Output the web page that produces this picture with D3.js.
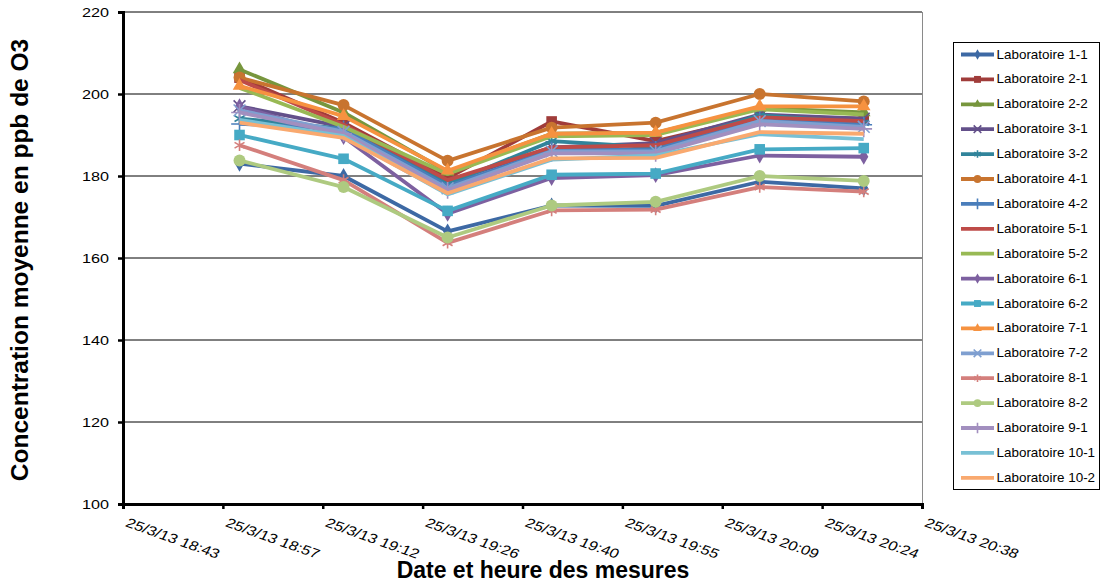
<!DOCTYPE html>
<html><head><meta charset="utf-8">
<script src="https://cdn.jsdelivr.net/npm/d3@7"></script>
<style>
body{margin:0;background:#fff;}
text{font-family:"Liberation Sans",Arial,sans-serif;}
</style></head>
<body><svg id="c" width="1102" height="585"></svg>
<script>
const times = ["2013-03-25T19:00","2013-03-25T19:15","2013-03-25T19:30","2013-03-25T19:45","2013-03-25T20:00","2013-03-25T20:15","2013-03-25T20:30"];
const xTickTimes = ["2013-03-25T18:43:12","2013-03-25T18:57:36","2013-03-25T19:12:00","2013-03-25T19:26:24","2013-03-25T19:40:48","2013-03-25T19:55:12","2013-03-25T20:09:36","2013-03-25T20:24:00","2013-03-25T20:38:24"];
const xTickLabels = ["25/3/13 18:43","25/3/13 18:57","25/3/13 19:12","25/3/13 19:26","25/3/13 19:40","25/3/13 19:55","25/3/13 20:09","25/3/13 20:24","25/3/13 20:38"];
const yTicks = [100,120,140,160,180,200,220];

const seriesNames = ["Laboratoire 1-1","Laboratoire 2-1","Laboratoire 2-2","Laboratoire 3-1","Laboratoire 3-2","Laboratoire 4-1","Laboratoire 4-2","Laboratoire 5-1","Laboratoire 5-2","Laboratoire 6-1","Laboratoire 6-2","Laboratoire 7-1","Laboratoire 7-2","Laboratoire 8-1","Laboratoire 8-2","Laboratoire 9-1","Laboratoire 10-1","Laboratoire 10-2"];
const lab1_1  = [183.0, 180.0, 166.5, 172.8, 172.7, 178.6, 177.0];
const lab2_1  = [204.0, 193.0, 179.5, 193.3, 188.5, 194.5, 194.0];
const lab2_2  = [206.0, 195.5, 181.0, 190.3, 190.5, 196.6, 195.5];
const lab3_1  = [197.0, 192.0, 178.5, 187.0, 188.0, 195.0, 194.0];
const lab3_2  = [194.0, 191.5, 178.0, 188.5, 187.0, 194.8, 193.0];
const lab4_1  = [204.0, 197.3, 183.7, 191.8, 193.0, 200.0, 198.2];
const lab4_2  = [192.7, 191.5, 177.5, 186.3, 186.5, 194.0, 192.5];
const lab5_1  = [203.4, 192.5, 179.0, 187.0, 187.5, 194.3, 193.4];
const lab5_2  = [201.5, 192.0, 180.5, 189.7, 190.0, 196.3, 195.0];
const lab6_1  = [197.0, 189.5, 170.8, 179.5, 180.2, 185.0, 184.7];
const lab6_2  = [190.0, 184.2, 171.5, 180.3, 180.6, 186.5, 186.8];
const lab7_1  = [202.0, 194.6, 181.3, 190.3, 190.6, 197.0, 197.0];
const lab7_2  = [196.0, 190.8, 177.0, 186.0, 186.0, 193.4, 192.0];
const lab8_1  = [187.5, 179.0, 163.7, 171.6, 171.8, 177.3, 176.2];
const lab8_2  = [183.8, 177.3, 165.0, 172.8, 173.7, 180.0, 178.8];
const lab9_1  = [195.5, 190.3, 176.5, 185.5, 185.5, 192.6, 191.5];
const lab10_1 = [193.7, 189.7, 175.5, 184.0, 185.0, 190.2, 189.0];
const lab10_2 = [193.0, 189.3, 175.8, 184.3, 184.4, 190.7, 190.3];
const seriesValues = [lab1_1,lab2_1,lab2_2,lab3_1,lab3_2,lab4_1,lab4_2,lab5_1,lab5_2,lab6_1,lab6_2,lab7_1,lab7_2,lab8_1,lab8_2,lab9_1,lab10_1,lab10_2];

const colors = ["#3D69A4","#A03C3A","#77963D","#63508A","#31849B","#C8742F","#4A7EBB","#BE4B48","#98B954","#7D60A0","#46AAC5","#F69240","#7F9FD0","#D47F7C","#AECA80","#A28FBF","#78C0D5","#F9A96F"];
const markers = ["diamond","square","triangle","x","star","circle","plus","none","none","diamond","square","triangle","x","star","circle","plus","none","none"];

const svg = d3.select("#c");
const L = 123, R = 922, T = 12, B = 504;
const parse = d3.isoParse;
const x = d3.scaleTime().domain([parse(xTickTimes[0]), parse(xTickTimes[xTickTimes.length-1])]).range([L, R]);
const y = d3.scaleLinear().domain([100, 220]).range([B, T]);
const FF = '"Liberation Sans",Arial,sans-serif';

// gridlines
svg.append("g").selectAll("line").data(yTicks.filter(v => v > 100)).join("line")
  .attr("x1", L).attr("x2", R).attr("y1", d => y(d)).attr("y2", d => y(d))
  .attr("stroke", "#000").attr("stroke-width", 1);
svg.append("line").attr("x1", R + 0.5).attr("x2", R + 0.5).attr("y1", T).attr("y2", B)
  .attr("stroke", "#8a8a8a").attr("stroke-width", 1);

// y axis
const yAxis = svg.append("g").attr("transform", `translate(${L},0)`)
  .call(d3.axisLeft(y).tickValues(yTicks).tickSize(5).tickFormat(d3.format("d")));
yAxis.select(".domain").attr("stroke", "#000").attr("stroke-width", 3);
yAxis.selectAll(".tick line").attr("stroke-width", 2.5);
yAxis.selectAll("text").attr("font-size", 13.5).attr("fill", "#000")
  .attr("x", 0).attr("dy", "0.35em").attr("text-anchor", "end")
  .attr("transform", "translate(-14,0) scale(1.2,1)")
  .style("font-family", FF);

// x axis
const xDates = xTickTimes.map(parse);
const xAxis = svg.append("g").attr("transform", `translate(0,${B})`)
  .call(d3.axisBottom(x).tickValues(xDates).tickSize(5).tickFormat((d, i) => xTickLabels[i]));
xAxis.select(".domain").attr("stroke", "#000").attr("stroke-width", 3);
xAxis.selectAll(".tick line").attr("stroke-width", 2.5);
xAxis.selectAll("text")
  .attr("font-size", 13.2).attr("fill", "#000").attr("text-anchor", "start")
  .attr("y", 0).attr("dy", 0)
  .attr("transform", "translate(1,22) scale(1.25,1) rotate(24)")
  .style("font-family", FF);

// axis titles
svg.append("text").attr("transform", "translate(28,260) rotate(-90)")
  .attr("text-anchor", "middle").attr("font-size", 24.5).attr("font-weight", "bold")
  .text("Concentration moyenne en ppb de O3");
svg.append("text").attr("x", 543).attr("y", 578)
  .attr("text-anchor", "middle").attr("font-size", 23).attr("font-weight", "bold")
  .text("Date et heure des mesures");

function drawMarker(g, type, color, s) {
  if (type === "none") return;
  if (type === "diamond") g.append("path").attr("d", d3.symbol(d3.symbolDiamond, s * s * 0.55)()).attr("fill", color);
  else if (type === "square") g.append("path").attr("d", d3.symbol(d3.symbolSquare, s * s * 0.85)()).attr("fill", color);
  else if (type === "triangle") g.append("path").attr("d", d3.symbol(d3.symbolTriangle, s * s * 0.6)()).attr("fill", color);
  else if (type === "circle") g.append("path").attr("d", d3.symbol(d3.symbolCircle, s * s * 0.85)()).attr("fill", color);
  else if (type === "x") g.append("path").attr("d", d3.symbol(d3.symbolTimes, s * s * 0.7)()).attr("fill", "none").attr("stroke", color).attr("stroke-width", 1.6);
  else if (type === "star") g.append("path").attr("d", d3.symbol(d3.symbolAsterisk, s * s * 0.7)()).attr("fill", "none").attr("stroke", color).attr("stroke-width", 1.6);
  else if (type === "plus") g.append("path").attr("d", d3.symbol(d3.symbolPlus, s * s * 0.7)()).attr("fill", "none").attr("stroke", color).attr("stroke-width", 1.6);
}

const line = d3.line().x((d, i) => x(parse(times[i]))).y(d => y(d));
const plot = svg.append("g");
seriesValues.forEach((vals, si) => {
  const g = plot.append("g");
  g.append("path").attr("d", line(vals)).attr("fill", "none")
    .attr("stroke", colors[si]).attr("stroke-width", 3.8).attr("stroke-linejoin", "round");
  vals.forEach((v, i) => {
    const mg = g.append("g").attr("transform", `translate(${x(parse(times[i]))},${y(v)})`);
    drawMarker(mg, markers[si], colors[si], 11.5);
  });
});

// legend
const lg = svg.append("g");
lg.append("rect").attr("x", 953.5).attr("y", 42.5).attr("width", 146).attr("height", 447)
  .attr("fill", "#fff").attr("stroke", "#000").attr("stroke-width", 1);
seriesNames.forEach((name, i) => {
  const cy = 54.5 + i * 24.9;
  const it = lg.append("g");
  it.append("line").attr("x1", 961).attr("x2", 994).attr("y1", cy).attr("y2", cy)
    .attr("stroke", colors[i]).attr("stroke-width", 3.8);
  const mg = it.append("g").attr("transform", `translate(977.5,${cy})`);
  drawMarker(mg, markers[i], colors[i], 7.5);
  it.append("text").attr("transform", `translate(996.5,${cy + 4}) scale(1.12,1)`)
    .attr("font-size", 12).attr("fill", "#000").text(name);
});
</script></body></html>
